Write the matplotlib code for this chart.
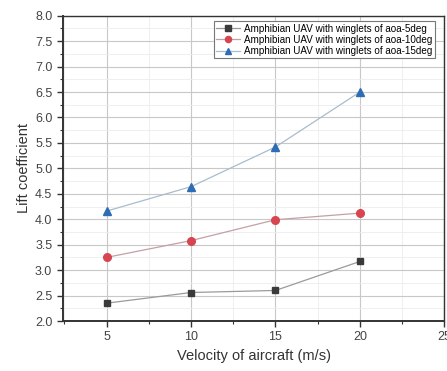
import matplotlib
matplotlib.use("Agg")
import matplotlib.pyplot as plt
from matplotlib.ticker import MultipleLocator

plt.rcParams['font.family'] = ['Liberation Sans', 'DejaVu Sans']

velocity = [5, 10, 15, 20]
cl_aoa5 = [2.35, 2.56, 2.60, 3.17]
cl_aoa10 = [3.25, 3.58, 3.99, 4.12]
cl_aoa15 = [4.16, 4.64, 5.42, 6.50]

labels = [
    "Amphibian UAV with winglets of aoa-5deg",
    "Amphibian UAV with winglets of aoa-10deg",
    "Amphibian UAV with winglets of aoa-15deg",
]

fig = plt.figure(figsize=(4.47, 3.71), dpi=100)
ax = fig.add_axes([62.7 / 447, 50 / 371, (444.3 - 62.7) / 447, (321 - 15.7) / 371])

ax.plot(velocity, cl_aoa5, color="#9a9a9a", lw=0.9, marker="s", ms=5,
        mfc="#3a3a3a", mec="#3a3a3a", label=labels[0], zorder=3)
ax.plot(velocity, cl_aoa10, color="#c4a0a4", lw=0.9, marker="o", ms=5.5,
        mfc="#d64550", mec="#d64550", label=labels[1], zorder=3)
ax.plot(velocity, cl_aoa15, color="#a9bccd", lw=0.9, marker="^", ms=6,
        mfc="#2e6db4", mec="#2e6db4", label=labels[2], zorder=3)

ax.set_xlim(2.4, 25)
ax.set_ylim(2.0, 8.0)
ax.xaxis.set_major_locator(MultipleLocator(5))
ax.xaxis.set_minor_locator(MultipleLocator(2.5))
ax.yaxis.set_major_locator(MultipleLocator(0.5))
ax.yaxis.set_minor_locator(MultipleLocator(0.25))
ax.set_xticks([5, 10, 15, 20, 25])
ax.yaxis.set_major_formatter(plt.FormatStrFormatter('%.1f'))

ax.grid(which="major", color="#c8c8c8", lw=0.8)
ax.grid(which="minor", color="#ececec", lw=0.6)
ax.set_axisbelow(True)

for s in ax.spines.values():
    s.set_color("#333333")
    s.set_linewidth(1.0)
ax.spines["left"].set_linewidth(1.4)
ax.spines["bottom"].set_linewidth(1.4)

ax.tick_params(which="major", direction="out", length=4, width=1, colors="#333333",
               labelsize=9, labelcolor="#444444")
ax.tick_params(which="minor", direction="out", length=2.5, width=0.8, colors="#333333")

ax.set_xlabel("Velocity of aircraft (m/s)", fontsize=10.5, color="#333333", labelpad=4)
ax.set_ylabel("Lift coefficient", fontsize=10.5, color="#333333", labelpad=3)

leg = ax.legend(loc="upper right", fontsize=7.1, frameon=True, fancybox=False,
                edgecolor="#777777", framealpha=1, borderpad=0.25, labelspacing=0.12,
                handlelength=2.4, handletextpad=0.4, borderaxespad=0.4,
                markerscale=0.8, bbox_to_anchor=(0.985, 0.995))
leg.get_frame().set_linewidth(0.8)

fig.savefig("out.png", dpi=100)
